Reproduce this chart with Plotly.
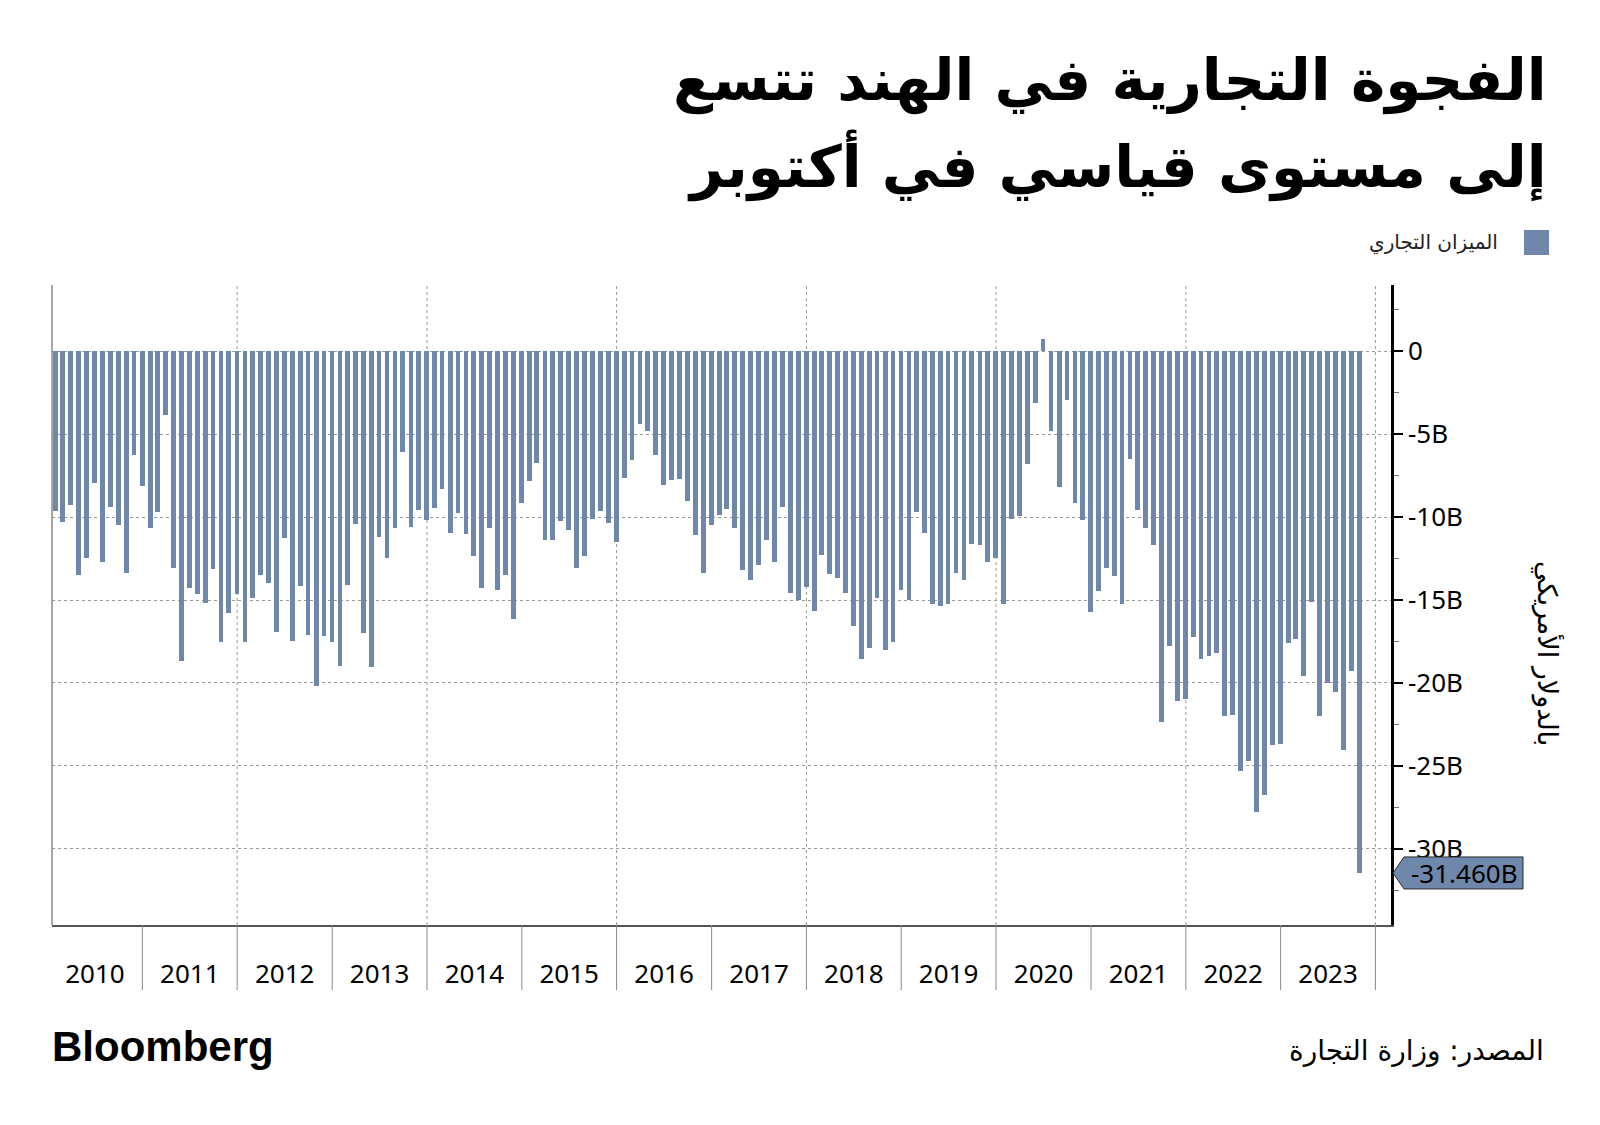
import pandas as pd
import plotly.graph_objects as go

# ---------------- data (billions USD, monthly trade balance) ----------------
years = list(range(2010, 2024))
balance_2010 = [-9.64, -10.32, -9.28, -13.51, -12.45, -7.97, -12.69, -9.36, -10.50, -13.35, -6.24, -8.13]
balance_2011 = [-10.64, -9.72, -3.82, -13.05, -18.65, -14.28, -14.64, -15.18, -13.13, -17.53, -15.76, -14.64]
balance_2012 = [-17.53, -14.86, -13.51, -13.98, -16.91, -11.24, -17.45, -14.14, -17.09, -20.18, -17.17, -17.53]
balance_2013 = [-18.98, -14.12, -10.40, -17.01, -19.06, -11.22, -12.45, -10.64, -6.08, -10.58, -9.56, -10.16]
balance_2014 = [-9.44, -8.29, -10.94, -9.74, -11.02, -12.37, -14.28, -10.64, -14.42, -13.51, -16.16, -9.12]
balance_2015 = [-7.83, -6.71, -11.37, -11.37, -10.26, -10.76, -13.05, -12.37, -10.10, -9.66, -10.34, -11.49]
balance_2016 = [-7.61, -6.55, -4.38, -4.80, -6.24, -8.07, -7.77, -7.69, -9.04, -11.10, -13.35, -10.48]
balance_2017 = [-9.88, -9.50, -10.64, -13.21, -13.82, -12.91, -11.37, -12.69, -9.36, -14.58, -15.02, -14.20]
balance_2018 = [-15.64, -12.31, -13.45, -13.65, -14.58, -16.55, -18.57, -17.91, -14.86, -17.99, -17.53, -14.42]
balance_2019 = [-15.02, -9.72, -10.94, -15.24, -15.34, -15.24, -13.37, -13.82, -11.61, -11.71, -12.69, -12.45]
balance_2020 = [-15.24, -10.10, -9.96, -6.77, -3.13, 0.76, -4.82, -8.21, -2.91, -9.14, -10.16, -15.72]
balance_2021 = [-14.44, -13.05, -13.57, -15.24, -6.49, -9.58, -10.64, -11.71, -22.36, -17.76, -21.07, -20.95]
balance_2022 = [-17.21, -18.58, -18.38, -18.21, -21.99, -21.92, -25.30, -24.68, -27.79, -26.74, -23.73, -23.66]
balance_2023 = [-17.59, -17.34, -19.58, -15.10, -21.99, -20.00, -20.55, -24.03, -19.28, -31.46]

values = (balance_2010 + balance_2011 + balance_2012 + balance_2013 + balance_2014 +
          balance_2015 + balance_2016 + balance_2017 + balance_2018 + balance_2019 +
          balance_2020 + balance_2021 + balance_2022 + balance_2023)
months = pd.date_range("2010-01-31", periods=len(values), freq="ME")

y_tickvals = [0, -5, -10, -15, -20, -25, -30]
y_ticktext = ["0", "-5B", "-10B", "-15B", "-20B", "-25B", "-30B"]
grid_years = [2012, 2014, 2016, 2018, 2020, 2022, 2024]
tick_years = list(range(2011, 2025))

title_line1 = "الفجوة التجارية في الهند تتسع"
title_line2 = "إلى مستوى قياسي في أكتوبر"
series_name = "الميزان التجاري"
unit_label = "بالدولار الأمريكي"
source_text = "المصدر: وزارة التجارة"
last_label = "-31.460B"

# ---------------- style / layout (target pixel positions in the 1600x1125 page) ----------------
BAR = "#6f87ab"
OFF = 8                      # default page margin around the plot div
W, H = 1600 - 2 * OFF, 1125 - 2 * OFF
PL, PR, PT, PB = 52.3, 1391.0, 285.0, 925.0
YMIN, YMAX = -34.6, 4.0
ARABIC = "DejaVu Sans, Noto Sans, sans-serif"
LATIN = "Noto Sans, Open Sans, sans-serif"


def xp(px):
    return (px - PL) / (PR - PL)


def yp(py):
    return (PB - py) / (PB - PT)


def yv(v):
    return (v - YMIN) / (YMAX - YMIN)


fig = go.Figure()
fig.add_trace(go.Bar(
    x=months, y=values, name=series_name,
    marker=dict(color=BAR, line=dict(width=0)),
    width=18.5 * 86400000, showlegend=False,
))

shapes = []
# vertical dotted gridlines (every 2 years)
for yr in grid_years:
    shapes.append(dict(type="line", xref="x", yref="paper", x0=f"{yr}-01-01", x1=f"{yr}-01-01",
                       y0=0, y1=1, line=dict(color="#9a9a9a", width=1, dash="dot"), layer="below"))
# year separator ticks below axis
for yr in tick_years:
    shapes.append(dict(type="line", xref="x", yref="paper", x0=f"{yr}-01-01", x1=f"{yr}-01-01",
                       y0=0, y1=-65 / (PB - PT), line=dict(color="#8a8a8a", width=1)))
# left frame line
shapes.append(dict(type="line", xref="paper", yref="paper", x0=0, x1=0, y0=0, y1=1,
                   line=dict(color="#8a8a8a", width=1.5)))
# legend swatch
shapes.append(dict(type="rect", xref="paper", yref="paper", x0=xp(1524), x1=xp(1549),
                   y0=yp(255), y1=yp(230), fillcolor=BAR, line=dict(width=0)))
# last value label box (arrow-shaped)
last = values[-1]
yc = yv(last)
hh = 16 / (PB - PT)
xt, xb, xr = xp(1393), xp(1404), xp(1523)
shapes.append(dict(type="path", xref="paper", yref="paper",
                   path=f"M {xt},{yc} L {xb},{yc + hh} L {xr},{yc + hh} L {xr},{yc - hh} L {xb},{yc - hh} Z",
                   fillcolor=BAR, line=dict(color="#2b2b2b", width=1)))

annotations = [
    dict(text=f"<b>{title_line1}</b>", xref="paper", yref="paper", x=xp(1549), y=yp(80),
         xanchor="right", yanchor="middle", showarrow=False,
         font=dict(family=ARABIC, size=58, color="#000")),
    dict(text=f"<b>{title_line2}</b>", xref="paper", yref="paper", x=xp(1549), y=yp(166),
         xanchor="right", yanchor="middle", showarrow=False,
         font=dict(family=ARABIC, size=58, color="#000")),
    dict(text=series_name, xref="paper", yref="paper", x=xp(1500), y=yp(242),
         xanchor="right", yanchor="middle", showarrow=False,
         font=dict(family=ARABIC, size=20, color="#222")),
    dict(text=last_label, xref="paper", yref="paper", x=xp(1464), y=yc,
         xanchor="center", yanchor="middle", showarrow=False,
         font=dict(family=LATIN, size=26, color="#000")),
    dict(text=unit_label, xref="paper", yref="paper", x=xp(1548), y=yp(653),
         xanchor="center", yanchor="middle", showarrow=False, textangle=90,
         font=dict(family=ARABIC, size=27, color="#000")),
    dict(text="<b>Bloomberg</b>", xref="paper", yref="paper", x=xp(50), y=yp(1046),
         xanchor="left", yanchor="middle", showarrow=False,
         font=dict(family="Liberation Sans, Arial, sans-serif", size=42, color="#000")),
    dict(text=source_text, xref="paper", yref="paper", x=xp(1546), y=yp(1050),
         xanchor="right", yanchor="middle", showarrow=False,
         font=dict(family=ARABIC, size=28, color="#000")),
]

fig.update_layout(
    width=W, height=H,
    margin=dict(l=PL - OFF, r=(OFF + W) - PR, t=PT - OFF, b=(OFF + H) - PB, pad=0, autoexpand=False),
    paper_bgcolor="white", plot_bgcolor="white",
    bargap=0,
    showlegend=False,
    shapes=shapes,
    annotations=annotations,
    xaxis=dict(
        type="date", range=["2010-01-18", "2024-03-01"],
        tick0="2010-01-01", dtick="M12", tickformat="%Y", ticklabelmode="period",
        ticks="", showgrid=False, zeroline=False, automargin=False,
        showline=True, linecolor="#555", linewidth=1.5,
        tickfont=dict(family=LATIN, size=26, color="#000"),
        ticklabelstandoff=25,
    ),
    yaxis=dict(
        side="right", range=[YMIN, YMAX], automargin=False,
        tickmode="array", tickvals=y_tickvals, ticktext=y_ticktext,
        ticks="outside", ticklen=9, tickwidth=2, tickcolor="#000",
        showgrid=True, gridcolor="#9a9a9a", griddash="dot", gridwidth=1,
        zeroline=False, showline=True, linecolor="#000", linewidth=2.5,
        tickfont=dict(family=LATIN, size=26, color="#000"),
        minor=dict(tickmode="linear", tick0=0, dtick=2.5, ticks="outside", ticklen=5,
                   tickcolor="#777", tickwidth=1, showgrid=False),
    ),
)

fig.write_html("out.html")
